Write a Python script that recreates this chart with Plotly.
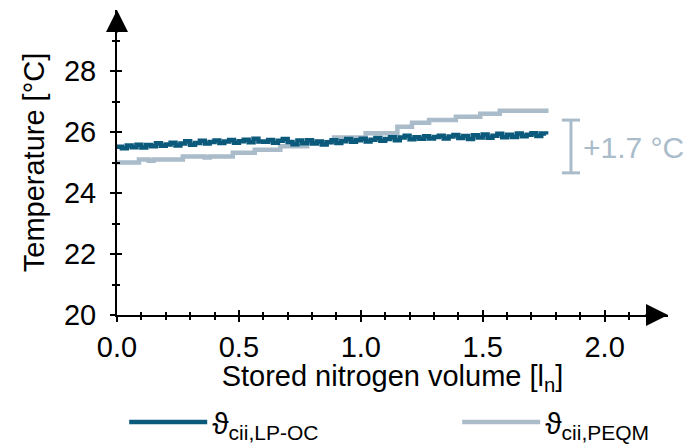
import plotly.graph_objects as go

# ---------------- data ----------------
volume_lpoc = [0.00, 0.02, 0.04, 0.06, 0.08, 0.10, 0.12, 0.14, 0.16, 0.18,
               0.20, 0.22, 0.24, 0.26, 0.28, 0.30, 0.32, 0.34, 0.36, 0.38,
               0.40, 0.42, 0.44, 0.46, 0.48, 0.50, 0.52, 0.54, 0.56, 0.58,
               0.60, 0.62, 0.64, 0.66, 0.68, 0.70, 0.72, 0.74, 0.76, 0.78,
               0.80, 0.82, 0.84, 0.86, 0.88, 0.90, 0.92, 0.94, 0.96, 0.98,
               1.00, 1.02, 1.04, 1.06, 1.08, 1.10, 1.12, 1.14, 1.16, 1.18,
               1.20, 1.22, 1.24, 1.26, 1.28, 1.30, 1.32, 1.34, 1.36, 1.38,
               1.40, 1.42, 1.44, 1.46, 1.48, 1.50, 1.52, 1.54, 1.56, 1.58,
               1.60, 1.62, 1.64, 1.66, 1.68, 1.70, 1.72, 1.74, 1.76]
temp_lpoc = [25.52, 25.47, 25.56, 25.50, 25.58, 25.49, 25.57, 25.53, 25.63, 25.55,
             25.59, 25.65, 25.56, 25.62, 25.70, 25.58, 25.64, 25.71, 25.62, 25.67,
             25.72, 25.64, 25.69, 25.74, 25.65, 25.70, 25.75, 25.66, 25.78, 25.69,
             25.68, 25.74, 25.65, 25.71, 25.77, 25.67, 25.60, 25.72, 25.63, 25.73,
             25.62, 25.69, 25.59, 25.66, 25.73, 25.64, 25.70, 25.77, 25.68, 25.73,
             25.78, 25.69, 25.75, 25.80, 25.71, 25.77, 25.83, 25.73, 25.82, 25.88,
             25.76, 25.83, 25.78, 25.86, 25.79, 25.84, 25.88, 25.79, 25.85, 25.90,
             25.80, 25.87, 25.77, 25.89, 25.82, 25.92, 25.81, 25.88, 25.94, 25.83,
             25.91, 25.84, 25.95, 25.86, 25.91, 25.96, 25.87, 25.95, 25.92]

volume_peqm = [0.00, 0.09, 0.13, 0.15, 0.27, 0.36, 0.38, 0.475, 0.565, 0.67,
               0.78, 0.89, 1.02, 1.15, 1.21, 1.28, 1.39, 1.49, 1.57, 1.77]
temp_peqm = [25.00, 25.10, 25.06, 25.10, 25.20, 25.16, 25.20, 25.32, 25.42, 25.53,
             25.67, 25.82, 25.96, 26.17, 26.30, 26.39, 26.50, 26.60, 26.70, 26.70]

x_major = [0.0, 0.5, 1.0, 1.5, 2.0]
x_major_labels = ["0.0", "0.5", "1.0", "1.5", "2.0"]
x_minor = [0.1, 0.2, 0.3, 0.4, 0.6, 0.7, 0.8, 0.9, 1.1, 1.2, 1.3, 1.4,
           1.6, 1.7, 1.8, 1.9, 2.1, 2.2]
y_major = [20, 22, 24, 26, 28]
y_minor = [21, 23, 25, 27, 29]

name_lpoc = "ϑ<sub>cii,LP-OC</sub>"
name_peqm = "ϑ<sub>cii,PEQM</sub>"
delta_label = "+1.7 °C"

# ---------------- styles ----------------
DARK = "#0b5a7c"
LIGHT = "#aabcca"
FONT = "Liberation Sans, Arial, sans-serif"
X_MAX, Y_MIN, Y_MAX = 2.26, 20, 30

fig = go.Figure()
# light series first so the dark one is drawn on top
fig.add_trace(go.Scatter(x=volume_peqm, y=temp_peqm, mode="lines", name=name_peqm,
                         legendrank=2, legendwidth=112,
                         line=dict(color=LIGHT, width=4.5, shape="hv")))
fig.add_trace(go.Scatter(x=volume_lpoc, y=temp_lpoc, mode="lines", name=name_lpoc,
                         legendrank=1, legendwidth=240,
                         line=dict(color=DARK, width=4.5, shape="hv")))
# helper traces so the overlay axes (inner tick halves) are drawn
fig.add_trace(go.Scatter(x=[], y=[], xaxis="x2", yaxis="y", showlegend=False, hoverinfo="skip"))
fig.add_trace(go.Scatter(x=[], y=[], xaxis="x", yaxis="y2", showlegend=False, hoverinfo="skip"))

common_tick = dict(tickcolor="black", tickwidth=2, showgrid=False, zeroline=False)

fig.update_layout(
    width=690, height=448,
    margin=dict(l=117, r=22, t=10, b=133, autoexpand=False),
    paper_bgcolor="white", plot_bgcolor="white",
    font=dict(family=FONT, size=29, color="black"),
    showlegend=True,
    legend=dict(orientation="h", xref="container", yref="container",
                x=0.18, y=0.058, xanchor="left", yanchor="middle",
                itemwidth=78, entrywidthmode="pixels", valign="top",
                font=dict(family=FONT, size=30, color="black"),
                bgcolor="rgba(0,0,0,0)"),
    xaxis=dict(range=[0, X_MAX], showline=True, linecolor="black", linewidth=2,
               ticks="outside", ticklen=5, tickvals=x_major, ticktext=x_major_labels,
               minor=dict(tickvals=x_minor, ticks="outside", ticklen=3,
                          tickcolor="black", tickwidth=2),
               tickfont=dict(size=29), automargin=True,
               title=dict(text="Stored nitrogen volume [l<sub>n</sub>]",
                          font=dict(size=29), standoff=17),
               **common_tick),
    xaxis2=dict(range=[0, X_MAX], overlaying="x", anchor="y", side="bottom",
                showline=False, ticks="inside", ticklen=5, tickvals=x_major,
                showticklabels=False,
                minor=dict(tickvals=x_minor, ticks="inside", ticklen=3,
                           tickcolor="black", tickwidth=2),
                **common_tick),
    yaxis=dict(range=[Y_MIN, Y_MAX], showline=True, linecolor="black", linewidth=2,
               ticks="outside", ticklen=5, tickvals=y_major,
               minor=dict(tickvals=y_minor, ticks="outside", ticklen=3,
                          tickcolor="black", tickwidth=2),
               tickfont=dict(size=29), ticklabelstandoff=8, automargin=True,
               title=dict(text="Temperature [°C]", font=dict(size=29), standoff=11),
               **common_tick),
    yaxis2=dict(range=[Y_MIN, Y_MAX], overlaying="y", anchor="x", side="left",
                showline=False, ticks="inside", ticklen=5, tickvals=y_major,
                showticklabels=False,
                minor=dict(tickvals=y_minor, ticks="inside", ticklen=3,
                           tickcolor="black", tickwidth=2),
                **common_tick),
)

# axis arrow heads
fig.add_annotation(x=0, y=Y_MAX, xref="x", yref="y", ax=0, ay=24, text="",
                   showarrow=True, arrowhead=2, arrowsize=2.2, arrowwidth=2,
                   arrowcolor="black")
fig.add_annotation(x=X_MAX, y=Y_MIN, xref="x", yref="y", ax=-24, ay=0, text="",
                   showarrow=True, arrowhead=2, arrowsize=2.2, arrowwidth=2,
                   arrowcolor="black")

# +1.7 °C bracket
bx, b_lo, b_hi, cap = 1.862, 24.66, 26.39, 0.037
for shp in [dict(x0=bx, x1=bx, y0=b_lo, y1=b_hi),
            dict(x0=bx - cap, x1=bx + cap, y0=b_lo, y1=b_lo),
            dict(x0=bx - cap, x1=bx + cap, y0=b_hi, y1=b_hi)]:
    fig.add_shape(type="line", xref="x", yref="y", line=dict(color=LIGHT, width=3), **shp)
fig.add_annotation(x=1.905, y=25.48, xref="x", yref="y", text=delta_label,
                   showarrow=False, xanchor="left", yanchor="middle",
                   font=dict(family=FONT, size=30, color=LIGHT))

fig.write_html("out.html")
